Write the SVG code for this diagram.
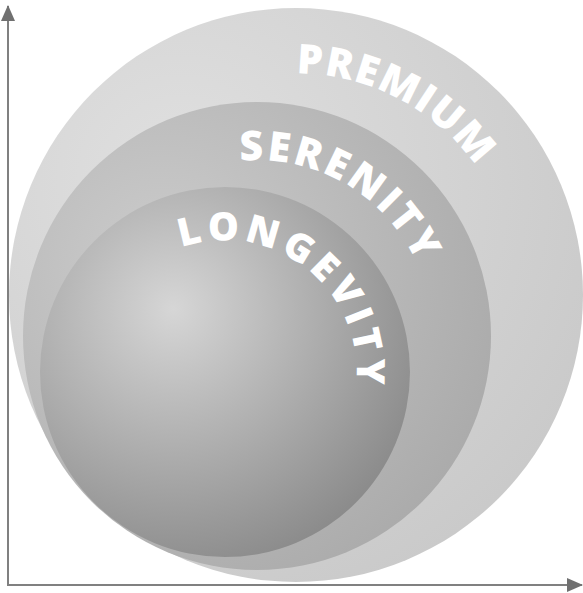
<svg xmlns="http://www.w3.org/2000/svg" width="583" height="593" viewBox="0 0 583 593">
<style>
.lbl{font-family:"Open Sans","Liberation Sans",sans-serif;font-weight:800;fill:#ffffff;font-size:41px}
.axis{stroke:#808080;stroke-width:2;fill:none}
</style>
<defs>
<radialGradient id="gPrem" cx="0.3" cy="0.3" r="0.85">
<stop offset="0" stop-color="#e0e0e0"/><stop offset="1" stop-color="#c8c8c8"/>
</radialGradient>
<radialGradient id="gSer" cx="0.3" cy="0.35" r="0.8">
<stop offset="0" stop-color="#cccccc"/><stop offset="1" stop-color="#a9a9a9"/>
</radialGradient>
<radialGradient id="gLong" cx="0.36" cy="0.33" r="0.75">
<stop offset="0" stop-color="#d6d6d6"/><stop offset="1" stop-color="#888888"/>
</radialGradient>
<marker id="arr" markerUnits="userSpaceOnUse" markerWidth="16" markerHeight="16" viewBox="0 0 16 16" refX="15" refY="8" orient="auto">
<path d="M0,1 L16,8 L0,15 Z" fill="#707070"/>
</marker>
<path id="pPrem" d="M108.6,176.1 A222,222 0 0 1 501.2,379.6"/>
<path id="pSer" d="M113.4,234.3 A176,176 0 0 1 416.1,411.2"/>
<path id="pLong" d="M130.1,280.3 A132,132 0 0 1 334.4,445.8"/>
</defs>
<g id="premium">
<circle cx="296" cy="295" r="287" fill="url(#gPrem)"/>
<text class="lbl" letter-spacing="1.5"><textPath href="#pPrem" startOffset="50%" text-anchor="middle">PREMIUM</textPath></text>
</g>
<g id="serenity">
<circle cx="257" cy="336" r="234" fill="url(#gSer)"/>
<text class="lbl" letter-spacing="3"><textPath href="#pSer" startOffset="50%" text-anchor="middle">SERENITY</textPath></text>
</g>
<g id="longevity">
<circle cx="225" cy="372" r="185" fill="url(#gLong)"/>
<text class="lbl" style="font-size:39px" letter-spacing="4.7"><textPath href="#pLong" startOffset="50%" text-anchor="middle">LONGEVITY</textPath></text>
</g>
<g id="connectors">
<path class="axis" d="M8,585 L8,6" marker-end="url(#arr)"/>
<path class="axis" d="M7,585 L582,585" marker-end="url(#arr)"/>
</g>
</svg>
